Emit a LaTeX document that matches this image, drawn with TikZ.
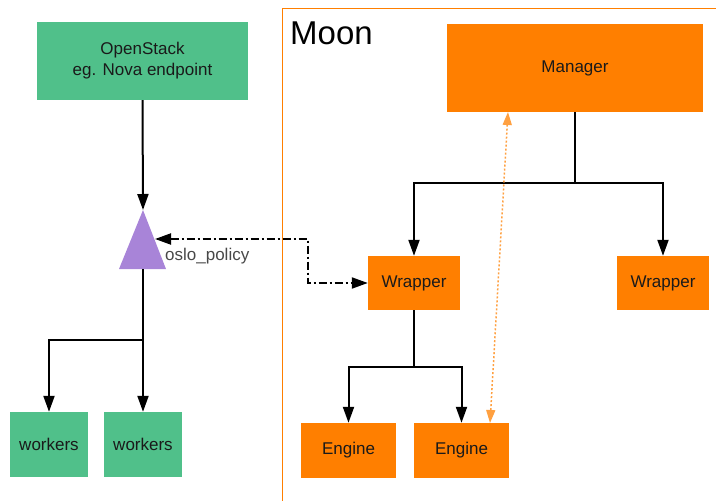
\documentclass[tikz,border=0pt]{standalone}
\usepackage{fontspec}
\setmainfont{Liberation Sans}
\usetikzlibrary{arrows.meta}
\definecolor{osgreen}{HTML}{50C08A}
\definecolor{moonorange}{HTML}{FF7F00}
\definecolor{lightorange}{HTML}{FFA040}
\definecolor{policypurple}{HTML}{A884D8}
\definecolor{txt}{HTML}{1A1A1A}
\tikzset{
  box/.style={rectangle, inner sep=0pt, align=center, text=txt, font=\fontsize{17}{21}\selectfont},
  greenbox/.style={box, fill=osgreen},
  orangebox/.style={box, fill=moonorange},
  flow/.style={line width=2pt, -{Triangle[width=11pt,length=16pt]}},
  policylink/.style={line width=2pt, dash pattern=on 8pt off 3pt on 2pt off 3pt, {Triangle[width=11pt,length=16pt]}-{Triangle[width=11pt,length=16pt]}},
  monitor/.style={lightorange, line width=1.5pt, dash pattern=on 2pt off 2pt, {Triangle[width=9pt,length=13pt]}-{Triangle[width=9pt,length=13pt]}},
}
\begin{document}
\begin{tikzpicture}[x=1pt,y=-1pt]
  \useasboundingbox (0,0) rectangle (716,501);
  % Moon frame
  \draw[moonorange, line width=1pt] (282,501) -- (282,8) -- (716,8);
  \node[anchor=base west, inner sep=0pt, text=black, font=\fontsize{33}{36}\selectfont] (moon) at (290,44) {Moon};
  % left side
  \node[greenbox, minimum width=211pt, minimum height=78pt] (openstack) at (142.5,61) {OpenStack\\eg. Nova endpoint};
  \coordinate (apex) at (143,210);
  \coordinate (base) at (143,269);
  \coordinate (tip) at (155,239);
  \fill[policypurple] (apex) -- (166,269) -- (119,269) -- cycle;
  \node[anchor=west, inner sep=0pt, text=txt!80, font=\fontsize{17}{20}\selectfont] (policy) at (165,256) {oslo\_policy};
  \node[greenbox, minimum width=78pt, minimum height=65pt] (workersa) at (49,444.5) {workers};
  \node[greenbox, minimum width=78pt, minimum height=65pt] (workersb) at (143,444.5) {workers};
  \coordinate (wsplit) at (143,340);
  \draw[flow] (openstack.south) -- (apex);
  \draw[flow] (base) -- (workersb.north);
  \draw[flow] (wsplit) -| (workersa.north);
  % Moon side
  \node[orangebox, minimum width=256pt, minimum height=88pt] (manager) at (575,68) {Manager};
  \node[orangebox, minimum width=92pt, minimum height=54pt] (wrappera) at (414,283) {Wrapper};
  \node[orangebox, minimum width=92pt, minimum height=54pt] (wrapperb) at (663,283) {Wrapper};
  \node[orangebox, minimum width=95pt, minimum height=55pt] (enginea) at (348.5,450.5) {Engine};
  \node[orangebox, minimum width=95pt, minimum height=55pt] (engineb) at (461.5,450.5) {Engine};
  \coordinate (msplit) at (575,183);
  \coordinate (esplit) at (414,367);
  \draw[line width=2pt] (manager.south) -- (msplit);
  \draw[flow] (msplit) -| (wrappera.north);
  \draw[flow] (msplit) -| (wrapperb.north);
  \draw[line width=2pt] (wrappera.south) -- (esplit);
  \draw[flow] (esplit) -| (enginea.north);
  \draw[flow] (esplit) -| (engineb.north);
  % policy and monitoring links
  \coordinate (bend) at (308,239);
  \draw[policylink] (tip) -- (bend) |- (wrappera.west);
  \coordinate (dottop) at (508,112);
  \coordinate (dotbot) at (490,423);
  \draw[monitor] (dottop) -- (dotbot);
\end{tikzpicture}
\end{document}
